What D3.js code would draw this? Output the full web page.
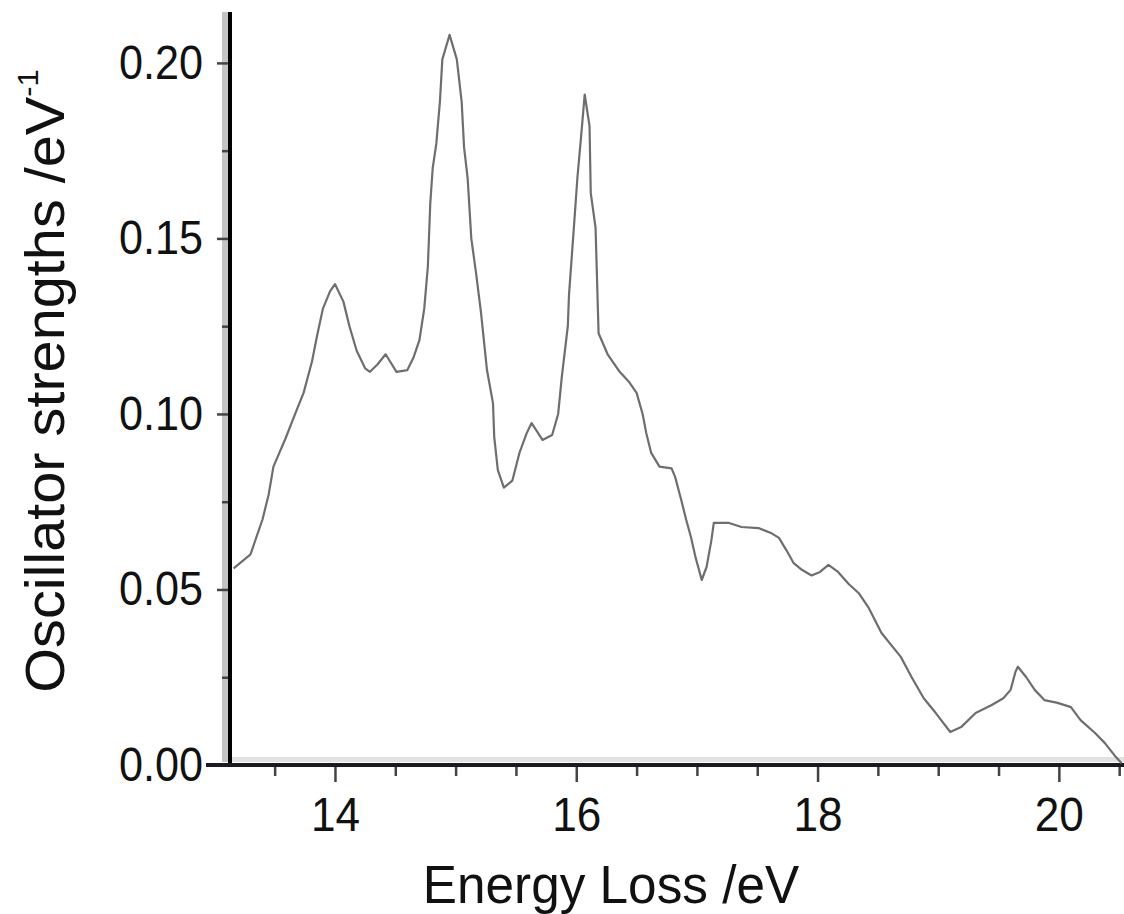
<!DOCTYPE html>
<html>
<head>
<meta charset="utf-8">
<script src="https://cdn.jsdelivr.net/npm/d3@7/dist/d3.min.js"></script>
<style>
  html, body { margin: 0; padding: 0; background: #fff; }
  svg { display: block; }
  text { font-family: "Liberation Sans", Arial, Helvetica, sans-serif; fill: #111; }
</style>
</head>
<body>
<svg id="chart" width="1124" height="914"></svg>
<script>
// Energy loss (eV) and oscillator strength (eV^-1) of the measured spectrum
const energy = [
  13.16, 13.30, 13.40, 13.45, 13.49, 13.59, 13.67, 13.74, 13.81, 13.85,
  13.90, 13.96, 14.00, 14.07, 14.12, 14.18, 14.25, 14.29, 14.35, 14.42,
  14.51, 14.60, 14.65, 14.70, 14.74, 14.77, 14.79, 14.81, 14.84, 14.87,
  14.89, 14.95, 15.01, 15.05, 15.07, 15.10, 15.13, 15.17, 15.21, 15.26,
  15.31, 15.32, 15.35, 15.40, 15.47, 15.53, 15.59, 15.63, 15.72, 15.80,
  15.85, 15.88, 15.93, 15.94, 15.98, 16.01, 16.04, 16.07, 16.11, 16.12,
  16.16, 16.185, 16.26, 16.36, 16.44, 16.50, 16.55, 16.58, 16.62, 16.69,
  16.79, 16.82, 16.87, 16.91, 16.95, 16.99, 17.04, 17.08, 17.12, 17.14,
  17.26, 17.37, 17.51, 17.62, 17.68, 17.74, 17.80, 17.87, 17.95, 18.02,
  18.09, 18.17, 18.26, 18.34, 18.42, 18.53, 18.69, 18.78, 18.88, 18.98,
  19.10, 19.19, 19.31, 19.44, 19.54, 19.60, 19.64, 19.66, 19.73, 19.80,
  19.88, 19.99, 20.10, 20.18, 20.30, 20.38, 20.46, 20.52
];
const strength = [
  0.0560, 0.0600, 0.0700, 0.0770, 0.0850, 0.0930, 0.1000, 0.1060, 0.1150, 0.1220,
  0.1300, 0.1350, 0.1370, 0.1320, 0.1250, 0.1180, 0.1130, 0.1120, 0.1140, 0.1170,
  0.1120, 0.1125, 0.1160, 0.1210, 0.1300, 0.1420, 0.1600, 0.1700, 0.1770, 0.1890,
  0.2010, 0.2080, 0.2010, 0.1890, 0.1760, 0.1670, 0.1500, 0.1400, 0.1290, 0.1125,
  0.1030, 0.0935, 0.0840, 0.0790, 0.0810, 0.0890, 0.0946, 0.0974, 0.0926, 0.0940,
  0.1000, 0.1105, 0.1250, 0.1340, 0.1530, 0.1675, 0.1790, 0.1910, 0.1820, 0.1630,
  0.1530, 0.1230, 0.1170, 0.1120, 0.1090, 0.1060, 0.1000, 0.0946, 0.0890, 0.0850,
  0.0845, 0.0820, 0.0755, 0.0700, 0.0650, 0.0590, 0.0527, 0.0564, 0.0640, 0.0690,
  0.0690, 0.0678, 0.0675, 0.0660, 0.0647, 0.0613, 0.0576, 0.0556, 0.0540, 0.0550,
  0.0570, 0.0550, 0.0515, 0.0490, 0.0450, 0.0376, 0.0308, 0.0250, 0.0190, 0.0148,
  0.0094, 0.0108, 0.0148, 0.0170, 0.0190, 0.0214, 0.0265, 0.0280, 0.0250, 0.0214,
  0.0185, 0.0177, 0.0165, 0.0128, 0.0091, 0.0063, 0.0028, 0.0005
];

const xMajorTicks = [14, 16, 18, 20];
const yMajorTicks = [0.00, 0.05, 0.10, 0.15, 0.20];
const xTitle = "Energy Loss /eV";
const yTitle = "Oscillator strengths /eV";
const yTitleSup = "-1";

const svg = d3.select("#chart");

const x = d3.scaleLinear().domain([13.13, 20.54]).range([230, 1124]);
const y = d3.scaleLinear().domain([0, 0.2145]).range([765, 12]);

const xMinor = d3.range(13.5, 20.51, 0.5).filter(v => !xMajorTicks.some(t => Math.abs(t - v) < 1e-6));
const yMinor = d3.range(0.025, 0.2, 0.05);

// soft shading along the axes
svg.append("rect").attr("x", 222).attr("y", 12).attr("width", 6).attr("height", 750).attr("fill", "#c4c4c4");
svg.append("rect").attr("x", 228).attr("y", 757).attr("width", 896).attr("height", 5).attr("fill", "#e2e2e2");

// X axis: major ticks with labels, minor ticks every 0.5 eV
const gx = svg.append("g").attr("transform", `translate(0,${y(0)})`)
  .call(d3.axisBottom(x).tickValues(xMajorTicks).tickSize(17).tickPadding(15).tickFormat(d3.format("d")));
gx.select(".domain").remove();
gx.selectAll(".tick line").attr("stroke", "#444").attr("stroke-width", 2.5);
gx.selectAll(".tick text")
  .attr("font-size", 48).attr("fill", "#111")
  .attr("transform", "scale(0.92,1)");

const gxMinor = svg.append("g").attr("transform", `translate(0,${y(0)})`)
  .call(d3.axisBottom(x).tickValues(xMinor).tickSize(11).tickFormat(""));
gxMinor.select(".domain").remove();
gxMinor.selectAll(".tick line").attr("stroke", "#444").attr("stroke-width", 2.5);

// Y axis: major ticks with labels, minor ticks halfway between
const gy = svg.append("g").attr("transform", "translate(230,0)")
  .call(d3.axisLeft(y).tickValues(yMajorTicks).tickSize(13).tickPadding(14).tickFormat(d3.format(".2f")));
gy.select(".domain").remove();
gy.selectAll(".tick line").attr("stroke", "#444").attr("stroke-width", 2.5);
gy.selectAll(".tick text").attr("font-size", 48).attr("fill", "#111")
  .each(function () {
    const t = d3.select(this);
    t.attr("x", +t.attr("x") / 0.9).attr("transform", "scale(0.9,1)");
  });

const gyMinor = svg.append("g").attr("transform", "translate(230,0)")
  .call(d3.axisLeft(y).tickValues(yMinor).tickSize(8).tickFormat(""));
gyMinor.select(".domain").remove();
gyMinor.selectAll(".tick line").attr("stroke", "#444").attr("stroke-width", 2.5);

// axis lines
svg.append("line").attr("x1", 230).attr("x2", 230).attr("y1", 12).attr("y2", 767)
  .attr("stroke", "#000").attr("stroke-width", 4);
svg.append("line").attr("x1", 206).attr("x2", 1124).attr("y1", 765).attr("y2", 765)
  .attr("stroke", "#1c1a1e").attr("stroke-width", 4);

// spectrum curve
const pts = energy.map((e, i) => [e, strength[i]]);
const line = d3.line().x(d => x(d[0])).y(d => y(d[1]));
svg.append("path").datum(pts)
  .attr("d", line)
  .attr("fill", "none")
  .attr("stroke", "#6e6e6e")
  .attr("stroke-width", 2.2)
  .attr("stroke-linejoin", "round");

// axis titles
svg.append("text")
  .attr("transform", "translate(611,903) scale(0.95,1)")
  .attr("text-anchor", "middle")
  .attr("font-size", 54)
  .text(xTitle);

const yt = svg.append("text")
  .attr("transform", "translate(64,381) rotate(-90) scale(1.03,1)")
  .attr("text-anchor", "middle")
  .attr("font-size", 56);
yt.append("tspan").text(yTitle);
yt.append("tspan").attr("font-size", 30).attr("dy", -26).text(yTitleSup);
</script>
</body>
</html>
